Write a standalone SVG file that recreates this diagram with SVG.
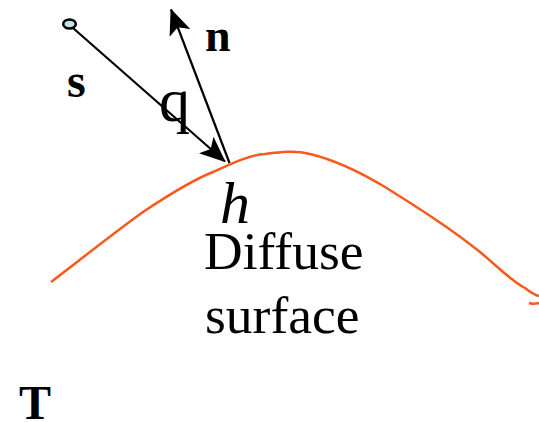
<svg xmlns="http://www.w3.org/2000/svg" width="539" height="422" viewBox="0 0 539 422">
<style>
.t{font-family:"Liberation Serif","Times New Roman",serif;fill:#000}
.b{font-weight:bold}
.l{fill:none;stroke:#000;stroke-width:2.200}
.c{fill:none;stroke:#f9591a;stroke-width:2.500}
</style>
<defs>
<marker id="a" viewBox="0 0 26 22" refX="25" refY="11" markerWidth="26" markerHeight="22" markerUnits="userSpaceOnUse" orient="auto"><path d="M0 0L26 11L0 22L6 11Z" fill="#000"/></marker>
</defs>
<g id="connectors">
<path class="c" d="M51 282C80 260 115 232 143 212C170 194 195 179 213 172C235 162 250 155 265 154C280 152 295 150 310 154C335 160 360 172 385 187C420 209 450 228 480 252C497 266 510 280 525 288C530 292 535 295 539 296"/>
<path class="c" d="M529 303C532 304 536 304 539 303"/>
<path class="l" d="M73 28L225 161.500" marker-end="url(#a)"/>
<path class="l" d="M229.500 163L171 9.500" marker-end="url(#a)"/>
</g>
<g id="source"><ellipse cx="69.500" cy="24" rx="6.300" ry="4.500" fill="#c3e4e6" stroke="#000" stroke-width="2.500"/></g>
<text class="t b" x="205" y="51" font-size="46">n</text>
<text class="t b" x="67" y="97" font-size="48">s</text>
<text class="t" x="159" y="121" font-size="62">q</text>
<text class="t" x="220" y="223" font-size="60" font-style="italic">h</text>
<text class="t" x="204" y="269" font-size="53.500">Diffuse</text>
<text class="t" x="205" y="332.500" font-size="53.500">surface</text>
<text class="t b" x="19" y="419" font-size="48">T</text>
</svg>
